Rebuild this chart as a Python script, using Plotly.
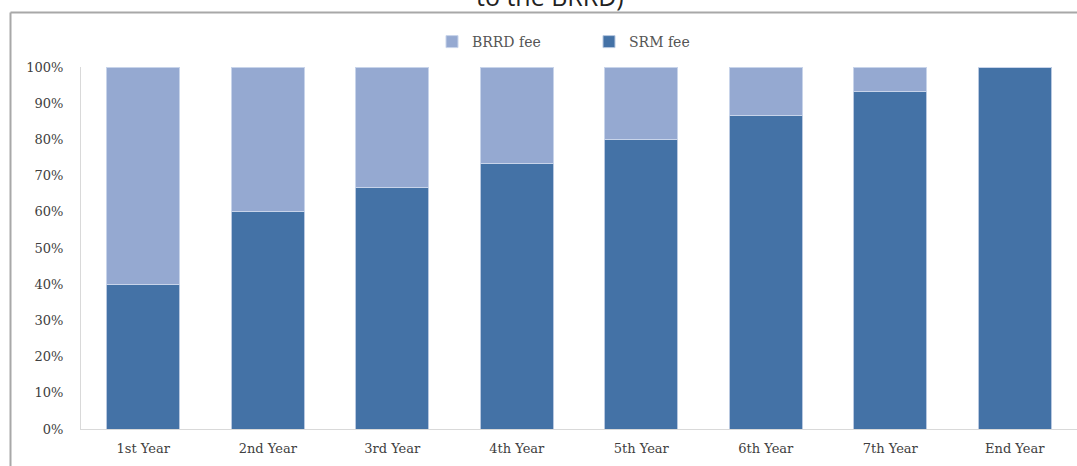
import plotly.graph_objects as go

categories = ["1st Year", "2nd Year", "3rd Year", "4th Year", "5th Year", "6th Year", "7th Year", "End Year"]
srm_fee = [40.0, 60.0, 66.7, 73.3, 80.0, 86.7, 93.3, 100.0]
brrd_fee = [60.0, 40.0, 33.3, 26.7, 20.0, 13.3, 6.7, 0.0]
y_ticks = [0, 10, 20, 30, 40, 50, 60, 70, 80, 90, 100]
y_tick_labels = [f"{v}%" for v in y_ticks]

W, H = 1077, 466
ML, MR, MT, MB = 81, 0, 67, 37
pw = W - ML - MR
ph = H - MT - MB

def px_x(x):
    return (x - ML) / pw

def px_y(y):
    return 1 + (MT - y) / ph

fig = go.Figure()
fig.add_trace(go.Bar(
    x=categories, y=srm_fee, name="SRM fee",
    marker=dict(color="#4472A6", line=dict(color="#b8c8e0", width=1)),
))
fig.add_trace(go.Bar(
    x=categories, y=brrd_fee, name="BRRD fee",
    marker=dict(color="#95A9D1", line=dict(color="#c8d4ea", width=1)),
))

serif = "DejaVu Serif, Liberation Serif, serif"

fig.update_layout(
    width=W, height=H,
    margin=dict(l=ML, r=MR, t=MT, b=MB),
    barmode="stack",
    bargap=0.414,
    paper_bgcolor="white",
    plot_bgcolor="white",
    showlegend=True,
    legend=dict(
        orientation="h", traceorder="reversed",
        x=px_x(432), xanchor="left",
        y=px_y(42), yanchor="middle",
        font=dict(family=serif, size=14, color="#555555"),
        itemwidth=30, entrywidth=112,
        bgcolor="rgba(0,0,0,0)",
    ),
    xaxis=dict(
        showgrid=False, showline=True, linecolor="#d9d9d9", linewidth=1,
        ticks="", tickfont=dict(family=serif, size=13, color="#404040"),
        ticklabelstandoff=7,
    ),
    yaxis=dict(
        range=[0, 100], tickvals=y_ticks, ticktext=y_tick_labels,
        showgrid=False, showline=True, linecolor="#d9d9d9", linewidth=1,
        zeroline=False, ticks="",
        tickfont=dict(family=serif, size=13, color="#404040"),
        ticklabelstandoff=14,
    ),
)

# outer frame (left and top borders)
fig.add_shape(type="line", xref="paper", yref="paper",
              x0=px_x(10.5), x1=px_x(10.5), y0=px_y(12.5), y1=px_y(470),
              line=dict(color="#a8a8a8", width=2))
fig.add_shape(type="line", xref="paper", yref="paper",
              x0=px_x(10.5), x1=px_x(1080), y0=px_y(12.5), y1=px_y(12.5),
              line=dict(color="#a8a8a8", width=2))

# partially visible title
fig.add_annotation(text="to the BRRD)", xref="paper", yref="paper",
                   x=px_x(550), y=px_y(15), xanchor="center", yanchor="bottom",
                   showarrow=False, font=dict(family="Open Sans, sans-serif", size=25, color="#222222"))

fig.write_html("out.html")
